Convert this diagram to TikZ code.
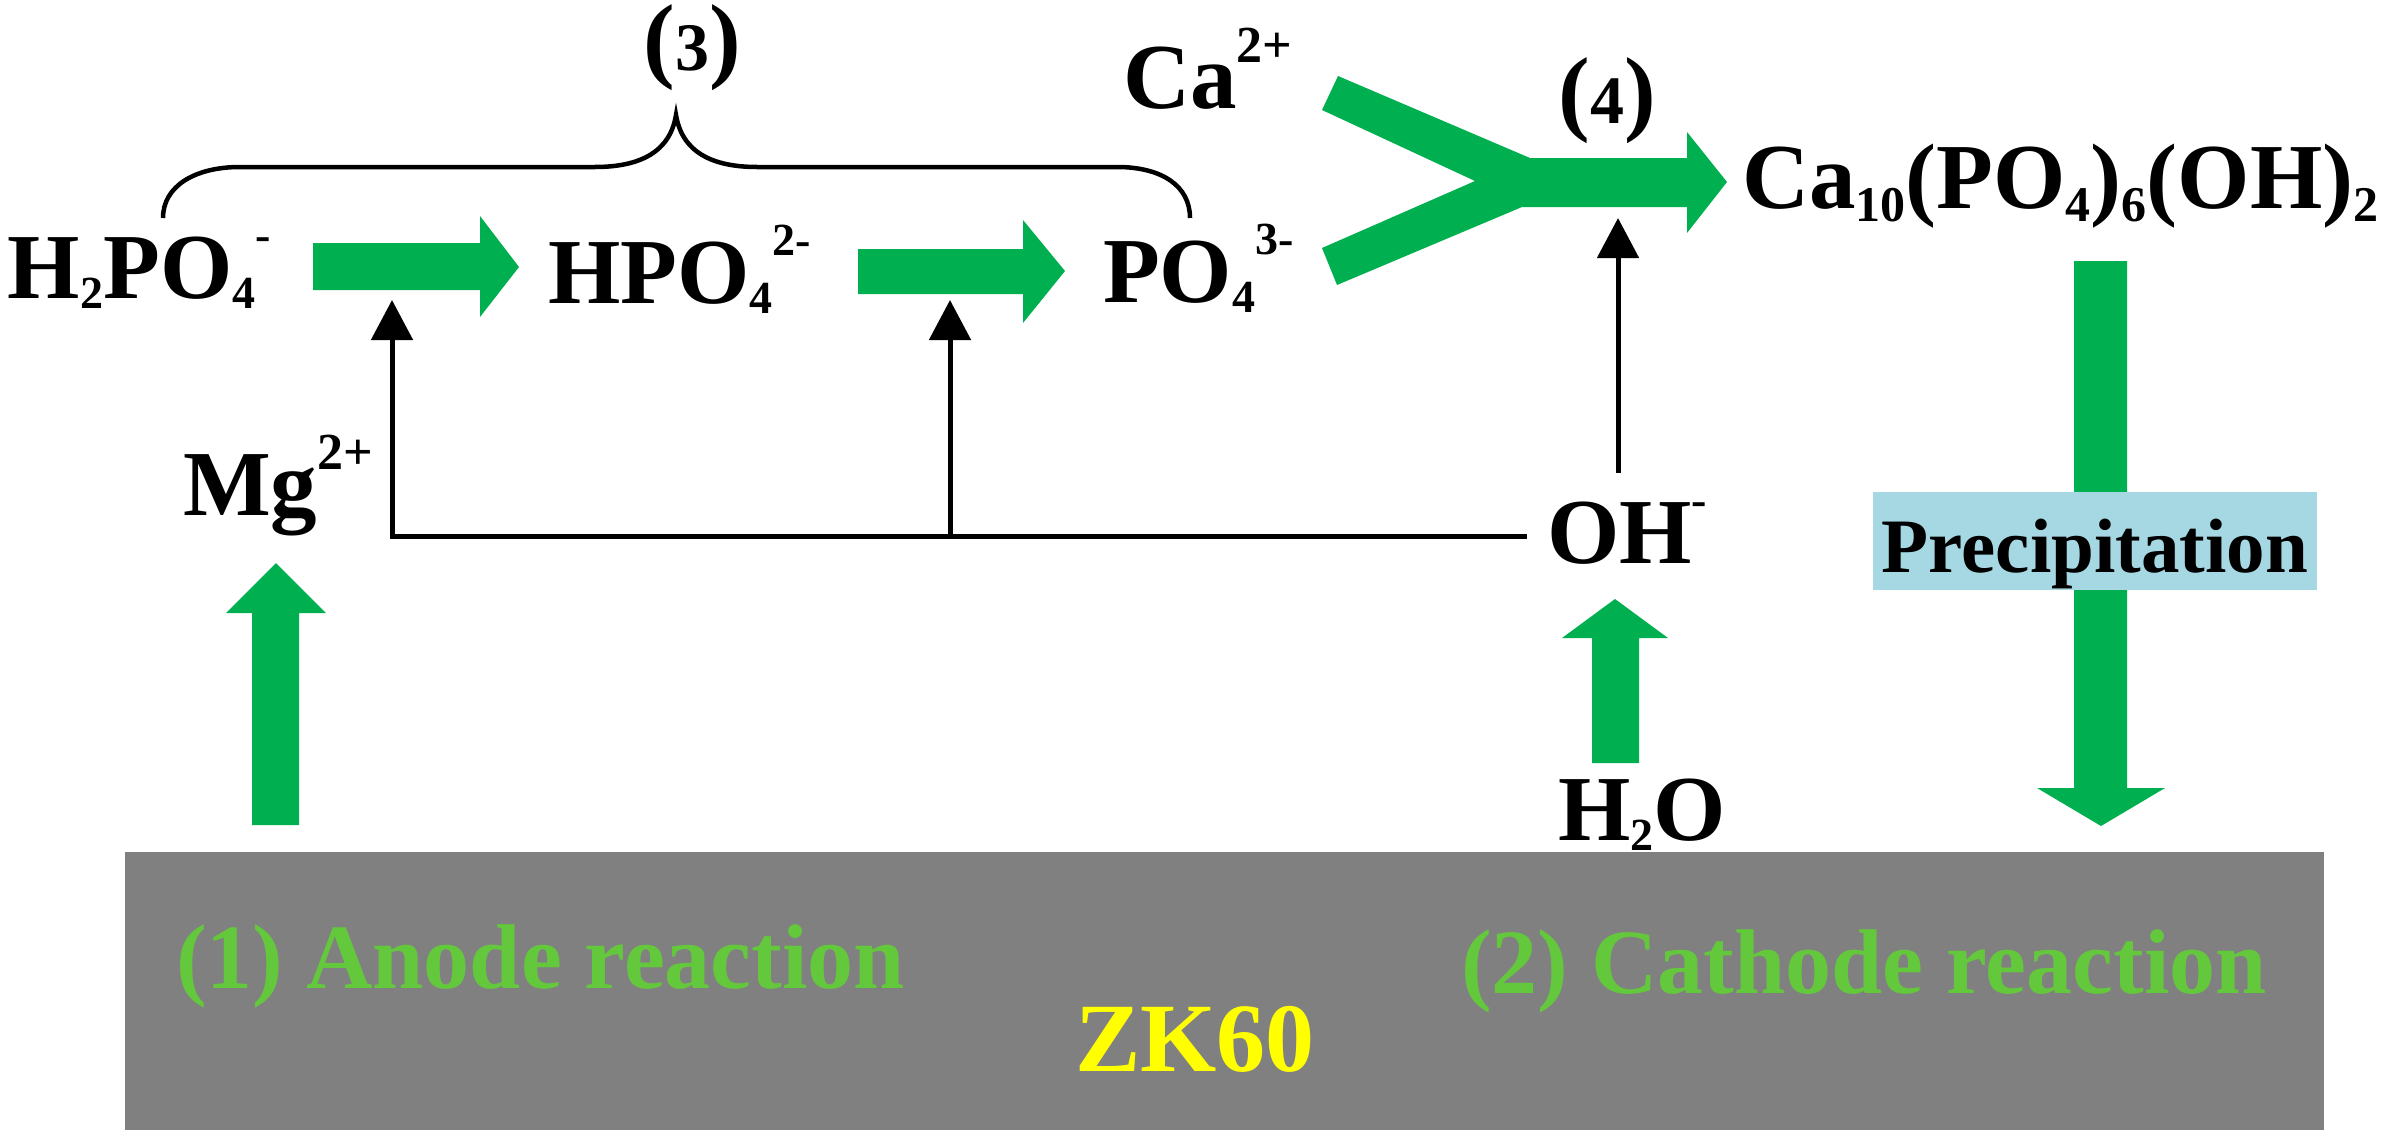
\documentclass[tikz,border=0pt]{standalone}
\usepackage{fontspec}
\setmainfont{Liberation Serif}
\usetikzlibrary{arrows.meta}
\definecolor{arrgreen}{RGB}{0,176,80}
\definecolor{txtgreen}{RGB}{100,200,60}
\definecolor{slab}{RGB}{128,128,128}
\definecolor{precip}{RGB}{166,216,228}
\definecolor{zkyellow}{RGB}{255,255,0}
\newcommand{\lowr}[1]{\raisebox{-10pt}{\fontsize{46}{46}\selectfont #1}}
\newcommand{\upr}[1]{\raisebox{48pt}{\fontsize{46}{46}\selectfont #1}}
\newcommand{\uprb}[1]{\raisebox{46pt}{\fontsize{52}{52}\selectfont #1}}
\newcommand{\lowrb}[1]{\raisebox{-13pt}{\fontsize{50}{50}\selectfont #1}}
\newcommand{\bigpar}[1]{{\fontsize{95}{95}\selectfont(}{\fontsize{68}{68}\selectfont #1}{\fontsize{95}{95}\selectfont)}}
\begin{document}
\begin{tikzpicture}[x=1pt,y=-1pt,
  lbl/.style={inner sep=0pt, outer sep=0pt, anchor=base west, font=\bfseries\fontsize{93}{93}\selectfont},
  numlbl/.style={inner sep=0pt, outer sep=0pt, anchor=base, font=\bfseries},
  greenlbl/.style={inner sep=0pt, outer sep=0pt, anchor=base west, text=txtgreen, font=\bfseries\fontsize{92}{92}\selectfont},
  garrow/.style={fill=arrgreen, draw=none},
  link/.style={line width=5pt, draw=black},
  linkarrow/.style={link, -{Triangle[width=41pt,length=40pt]}},
  bracestyle/.style={line width=4.5pt, draw=black}]
\useasboundingbox (0,0) rectangle (2395,1135);
\fill[white] (0,0) rectangle (2395,1135);

% substrate
\node[fill=slab, inner sep=0pt, minimum width=2199pt, minimum height=278pt, anchor=north west] (zk) at (125,852) {};
\node[greenlbl] (anode) at (176,988) {(1) Anode reaction};
\node[greenlbl] (cathode) at (1461,993) {(2) Cathode reaction};
\node[inner sep=0pt, anchor=base, text=zkyellow, font=\bfseries\fontsize{98}{98}\selectfont] (zklbl) at (1195,1071) {ZK60};

% green block arrows
\fill[garrow] (313,243) -- (480,243) -- (480,216) -- (519,267) -- (480,317) -- (480,290) -- (313,290) -- cycle;
\fill[garrow] (858,249) -- (1023,249) -- (1023,220) -- (1065,271) -- (1023,323) -- (1023,294) -- (858,294) -- cycle;
\fill[garrow] (1338,76) -- (1530,158) -- (1687,158) -- (1687,132) -- (1727,182) -- (1687,233) -- (1687,207) -- (1522,207) -- (1337,285) -- (1322,248) -- (1475,181) -- (1322,110) -- cycle;
\fill[garrow] (252,825) -- (299,825) -- (299,613) -- (326,613) -- (276,563) -- (226,613) -- (252,613) -- cycle;
\fill[garrow] (1592,763) -- (1639,763) -- (1639,638) -- (1668,638) -- (1615,599) -- (1562,638) -- (1592,638) -- cycle;
\fill[garrow] (2074,261) -- (2127,261) -- (2127,788) -- (2165,788) -- (2101,826) -- (2037,788) -- (2074,788) -- cycle;

% precipitation box
\node[fill=precip, inner sep=0pt, minimum width=444pt, minimum height=98pt, anchor=north west] (precbox) at (1873,492) {};
\node[inner sep=0pt, anchor=base, font=\bfseries\fontsize{77}{77}\selectfont] (prec) at (2095,572) {Precipitation};

% species
\node[lbl] (h2po4) at (8,298) {H\lowr{2}PO\lowr{4}\upr{-}};
\node[lbl] (hpo4) at (548,303) {HPO\lowr{4}\upr{2-}};
\node[lbl] (po4) at (1103,302) {PO\lowr{4}\upr{3-}};
\node[lbl] (ca) at (1123,108) {Ca\uprb{2+}};
\node[lbl] (hap) at (1742,208) {Ca\lowrb{10}(PO\lowrb{4})\lowrb{6}(OH)\lowrb{2}};
\node[lbl] (mg) at (183,515) {Mg\uprb{2+}};
\node[lbl] (oh) at (1547,563) {OH\upr{-}};
\node[lbl] (h2o) at (1558,840) {H\lowr{2}O};
\node[numlbl] (r3) at (692,70) {\bigpar{3}};
\node[numlbl] (r4) at (1607,123) {\bigpar{4}};

% brace over step (3)
\draw[bracestyle] (163,218) .. controls (163,186) and (195,167) .. (240,167) -- (595,167)
  .. controls (640,167) and (670,152) .. (676,115)
  .. controls (682,152) and (712,167) .. (757,167) -- (1117,167)
  .. controls (1162,167) and (1190,186) .. (1190,218);

% black OH- connectors
\coordinate (ohl) at (1527,536);
\coordinate (j2) at (950,536);
\coordinate (t1) at (392,300);
\coordinate (t2) at (950,300);
\coordinate (ohtop) at (1618,473);
\coordinate (t4) at (1618,218);
\draw[linkarrow] (ohl) -| (t1);
\draw[linkarrow] (j2) -- (t2);
\draw[linkarrow] (ohtop) -- (t4);
\end{tikzpicture}
\end{document}
